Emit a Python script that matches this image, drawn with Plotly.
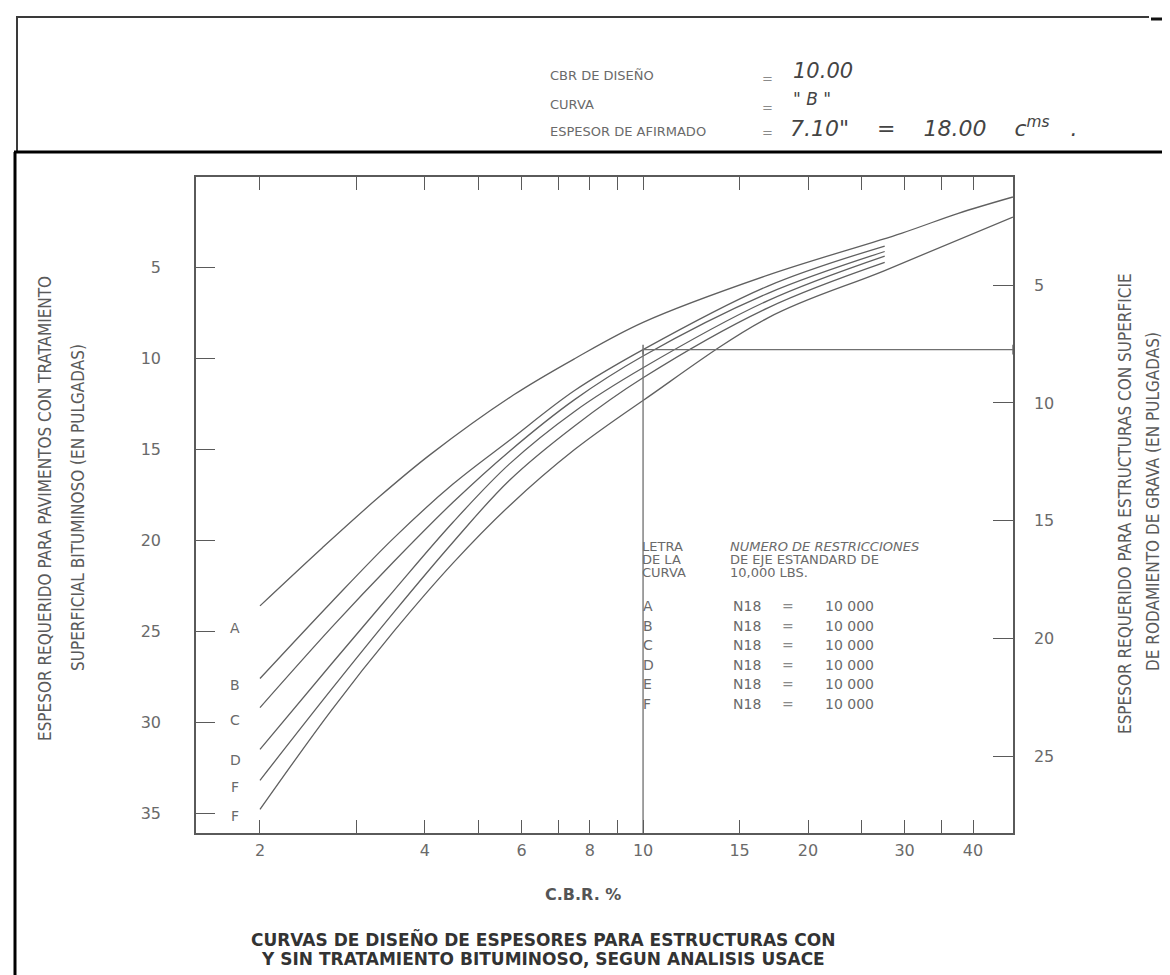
import plotly.graph_objects as go

# ---------------- data ----------------
cbr_A = [2.0, 2.6, 3.3, 4.1, 5.8, 7.5, 10.0, 16.9, 29.6, 37.6, 47.3]
esp_A = [23.6, 20.4, 17.6, 15.25, 12.0, 10.0, 8.0, 5.4, 3.1, 2.0, 1.1]

cbr_B = [2.0, 2.7, 3.5, 4.5, 5.7, 7.5, 10.0, 16.9, 27.6]
esp_B = [27.6, 23.4, 19.9, 16.9, 14.5, 11.75, 9.5, 6.0, 3.8]

cbr_C = [2.0, 2.7, 3.5, 4.5, 5.7, 7.5, 10.0, 16.9, 27.6]
esp_C = [29.2, 24.8, 21.2, 17.9, 15.1, 12.25, 9.85, 6.4, 4.1]

cbr_D = [2.0, 2.7, 3.5, 4.5, 5.7, 7.5, 10.0, 16.9, 27.6]
esp_D = [31.5, 26.8, 22.8, 19.0, 15.8, 12.9, 10.5, 6.8, 4.35]

cbr_E = [2.0, 2.7, 3.5, 4.5, 5.7, 7.5, 10.0, 16.9, 27.6]
esp_E = [33.2, 28.2, 24.0, 20.1, 16.7, 13.7, 11.05, 7.2, 4.7]

cbr_F = [2.0, 2.7, 3.5, 4.5, 5.7, 7.5, 10.0, 16.9, 27.6, 47.3]
esp_F = [34.8, 29.35, 25.05, 21.25, 18.1, 15.0, 12.3, 7.75, 5.15, 2.2]

curve_letters = ["A", "B", "C", "D", "F", "F"]
legend_letters = ["A", "B", "C", "D", "E", "F"]
legend_n18 = ["10 000", "10 000", "10 000", "10 000", "10 000", "10 000"]

x_major_vals = [2, 4, 6, 8, 10, 15, 20, 30, 40]
x_major_text = ["2", "4", "6", "8", "10", "15", "20", "30", "40"]
x_minor_vals = [3, 5, 7, 9, 25, 35]
left_tick_vals = [5, 10, 15, 20, 25, 30, 35]
right_tick_vals = [5, 10, 15, 20, 25]

cbr_design = 10.0
esp_design = 9.5

x_range_log = [0.1843, 1.675]
left_range = [36.1, 0.0]
right_range = [28.25, 0.41]

# ---------------- figure ----------------
W, H = 1170, 975
L, R, T, B = 188, 1005, 169, 825

def px(X):
    return (X - L) / (R - L)

def py(Y):
    return (B - Y) / (B - T)

fig = go.Figure()
line_col = "#606060"
for xs, ys in [(cbr_A, esp_A), (cbr_B, esp_B), (cbr_C, esp_C),
               (cbr_D, esp_D), (cbr_E, esp_E), (cbr_F, esp_F)]:
    fig.add_trace(go.Scatter(x=xs, y=ys, mode="lines",
                             line=dict(color=line_col, width=1.3, shape="spline", smoothing=1.0),
                             hoverinfo="skip", showlegend=False))

# design lines
fig.add_trace(go.Scatter(x=[cbr_design, cbr_design, 10 ** x_range_log[1]],
                         y=[left_range[0], esp_design, esp_design],
                         mode="lines", line=dict(color="#707070", width=1.3),
                         showlegend=False, hoverinfo="skip", cliponaxis=False))
fig.add_trace(go.Scatter(x=[cbr_design, 10 ** x_range_log[1]], y=[esp_design, esp_design],
                         mode="markers", marker=dict(symbol="line-ns", size=7,
                                                     line=dict(color="#707070", width=1.5)),
                         showlegend=False, hoverinfo="skip", cliponaxis=False))
# invisible point on the right axis so that axis renders
fig.add_trace(go.Scatter(x=[10], y=[10], yaxis="y2", mode="markers",
                         marker=dict(opacity=0), showlegend=False, hoverinfo="skip"))

tick_font = dict(family="DejaVu Sans, Verdana, sans-serif", size=16, color="#6a6a6a")
axis_col = "#5a5a5a"

fig.update_layout(
    width=W, height=H,
    margin=dict(l=L, r=W - R, t=T, b=H - B),
    paper_bgcolor="white", plot_bgcolor="white",
    xaxis=dict(type="log", range=x_range_log, tickvals=x_major_vals, ticktext=x_major_text,
               ticks="inside", ticklen=13, tickwidth=1.3, tickcolor=axis_col,
               minor=dict(tickvals=x_minor_vals, ticks="inside", ticklen=13, tickwidth=1.3,
                          tickcolor=axis_col, showgrid=False),
               showline=True, linecolor=axis_col, linewidth=1.5, mirror="ticks",
               showgrid=False, zeroline=False, tickfont=tick_font, ticklabelstandoff=2),
    yaxis=dict(range=left_range, tickvals=left_tick_vals, ticks="inside", ticklen=19,
               tickwidth=1.3, tickcolor=axis_col, showline=True, linecolor=axis_col,
               linewidth=1.5, showgrid=False, zeroline=False, tickfont=tick_font,
               ticklabelstandoff=30),
    yaxis2=dict(range=right_range, tickvals=right_tick_vals, overlaying="y", side="right",
                ticks="inside", ticklen=20, tickwidth=1.3, tickcolor=axis_col,
                showline=True, linecolor=axis_col, linewidth=1.5, showgrid=False,
                zeroline=False, tickfont=tick_font, ticklabelstandoff=16),
)

# ---------- frames ----------
def seg(x0, y0, x1, y1, color, width):
    fig.add_shape(type="line", xref="paper", yref="paper",
                  x0=px(x0), y0=py(y0), x1=px(x1), y1=py(y1),
                  line=dict(color=color, width=width), layer="above")

seg(8, 9, 1141, 9, "#3a3a3a", 2)
seg(9, 9, 9, 144, "#3a3a3a", 2)
seg(1143, 11, 1170, 11, "#111111", 3)
seg(6, 144, 1170, 144, "#000000", 3)
seg(7, 144, 7, 975, "#000000", 3)
seg(1167, 144, 1167, 975, "#9a9a9a", 1)

# ---------- texts ----------
def txt(x, y, s, size=13, color="#5a5a5a", family="DejaVu Sans, Verdana, sans-serif",
        xanchor="left", angle=0, yanchor="middle"):
    fig.add_annotation(xref="paper", yref="paper", x=px(x), y=py(y), text=s,
                       showarrow=False, xanchor=xanchor, yanchor=yanchor, textangle=angle,
                       font=dict(size=size, color=color, family=family))

hdr_font = "DejaVu Sans, Verdana, sans-serif"
hand_font = "DejaVu Sans, sans-serif"
txt(540, 68, "CBR DE DISEÑO", 13, "#6a6a6a", hdr_font)
txt(540, 97, "CURVA", 13, "#6a6a6a", hdr_font)
txt(540, 123, "ESPESOR DE AFIRMADO", 13, "#6a6a6a", hdr_font)
for yy in [70, 99, 125]:
    txt(752, yy, "=", 13, "#8a8a8a", hdr_font)
txt(783, 63, "<i>10.00</i>", 21, "#444444", hand_font)
txt(783, 91, "<i>\" B \"</i>", 17, "#444444", hand_font)
txt(780, 119, "<i>7.10\"    =    18.00    c<sup>ms</sup>   .</i>", 22, "#444444", hand_font)

narrow = "Liberation Sans Narrow, DejaVu Sans Condensed, Arial Narrow, sans-serif"
txt(37, 501, "ESPESOR REQUERIDO PARA PAVIMENTOS CON TRATAMIENTO", 17, "#5a5a5a", narrow,
    xanchor="center", angle=-90)
txt(70, 500, "SUPERFICIAL BITUMINOSO (EN PULGADAS)", 17, "#5a5a5a", narrow,
    xanchor="center", angle=-90)
txt(1117, 496, "ESPESOR REQUERIDO PARA ESTRUCTURAS CON SUPERFICIE", 17, "#5a5a5a", narrow,
    xanchor="center", angle=-90)
txt(1145, 494, "DE RODAMIENTO DE GRAVA (EN PULGADAS)", 17, "#5a5a5a", narrow,
    xanchor="center", angle=-90)

# curve letters near left axis
letter_y = [620, 677, 712, 752, 779, 808]
for s, yy in zip(curve_letters, letter_y):
    txt(227, yy, s, 14, "#6a6a6a", xanchor="center")

# legend block
for s, yy in zip(["LETRA", "DE LA", "CURVA"], [538, 551, 564]):
    txt(632, yy, s, 13, "#6a6a6a")
for s, yy in zip(["<i>NUMERO DE RESTRICCIONES</i>", "DE EJE ESTANDARD DE", "10,000 LBS."],
                 [538, 551, 564]):
    txt(720, yy, s, 13, "#6a6a6a")
row_y = [598, 617.5, 637, 656.5, 676, 695.5]
for s, n, yy in zip(legend_letters, legend_n18, row_y):
    txt(633, yy, s, 14, "#6a6a6a")
    txt(723, yy, "N18", 14, "#6a6a6a")
    txt(772, yy, "=", 14, "#8a8a8a")
    txt(815, yy, n, 14, "#6a6a6a")

txt(575, 886, "<b>C.B.R. %</b>", 16, "#555555", xanchor="center")
txt(535, 931, "<b>CURVAS DE DISEÑO DE ESPESORES PARA ESTRUCTURAS CON</b>", 17, "#333333",
    xanchor="center")
txt(535, 951, "<b>Y SIN TRATAMIENTO BITUMINOSO, SEGUN ANALISIS USACE</b>", 17, "#333333",
    xanchor="center")

fig.write_html("out.html")
